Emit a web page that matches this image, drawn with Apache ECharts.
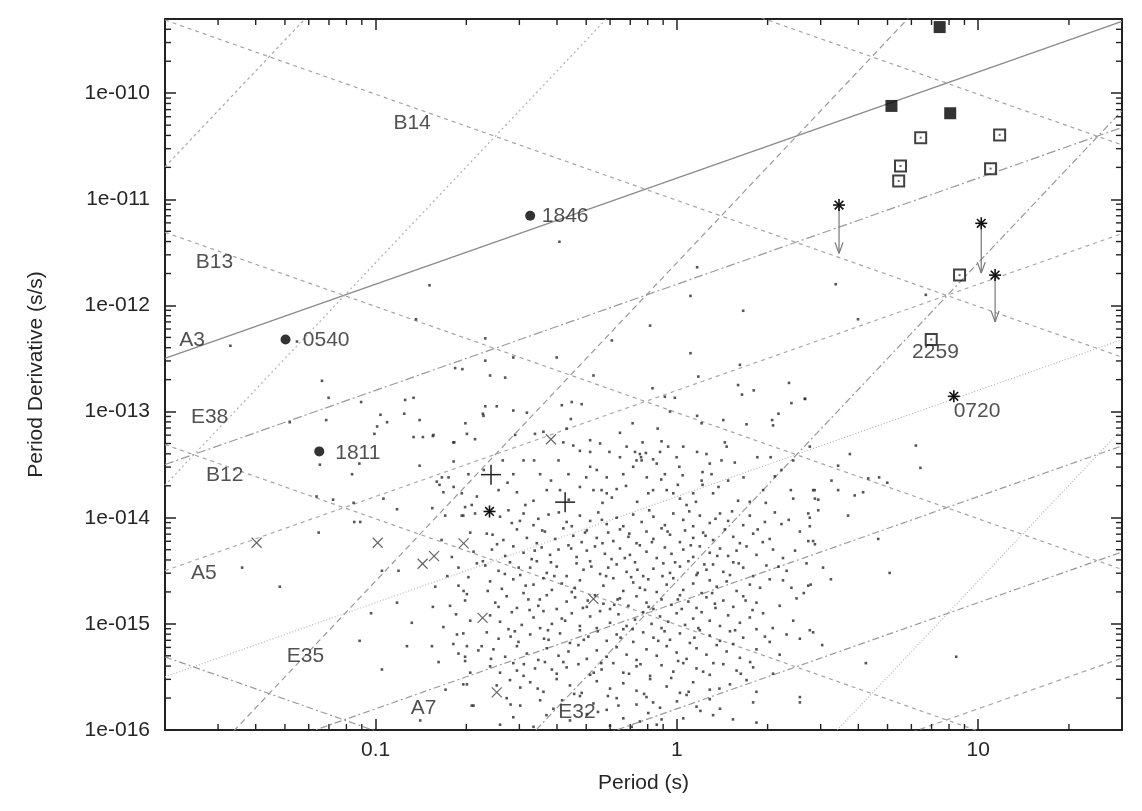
<!DOCTYPE html>
<html>
<head>
<meta charset="utf-8">
<title>P - Pdot diagram</title>
<script src="https://cdn.jsdelivr.net/npm/echarts@6/dist/echarts.min.js"></script>
<style>
  html, body { margin: 0; padding: 0; background: #fff; }
  #chart { width: 1142px; height: 811px; }
</style>
</head>
<body>
<div id="chart"></div>
<script>
// P-Pdot diagram. All values are stored as [log10 P, log10 Pdot].

const FONT = '"Liberation Sans", Arial, sans-serif';
const X_MIN = 0.02, X_MAX = 30;
const Y_MIN = 1e-16, Y_MAX = 5e-10;

// reference lines: name, start, end (log units, clipped by the grid)
const ageLines = [
  ['A3', [-1.699, -12.499], [1.477, -9.323]],
  ['A4', [-1.699, -13.499], [1.477, -10.323]],
  ['A5', [-1.699, -14.499], [1.477, -11.323]],
  ['A6', [-1.699, -15.499], [1.477, -12.323]],
  ['A7', [-1.699, -16.499], [1.477, -13.323]],
  ['A8', [-1.699, -17.499], [1.477, -14.323]],
  ['A9', [-1.699, -18.499], [1.477, -15.323]]
];
const fieldLines = [
  ['B11', [-1.699, -15.311], [1.477, -18.487]],
  ['B12', [-1.699, -13.311], [1.477, -16.487]],
  ['B13', [-1.699, -11.311], [1.477, -14.487]],
  ['B14', [-1.699, -9.311], [1.477, -12.487]],
  ['B15', [-1.699, -7.311], [1.477, -10.487]]
];
const edotLines = [
  ['E29', [-1.699, -22.694], [1.477, -13.166]],
  ['E32', [-1.699, -19.694], [1.477, -10.166]],
  ['E35', [-1.699, -16.694], [1.477, -7.166]],
  ['E38', [-1.699, -13.694], [1.477, -4.166]],
  ['E41', [-1.699, -10.694], [1.477, -1.166]]
];

// text labels of the lines, centre of the text
const lineLabels = [
  ['A3', -1.609, -12.323], ['A5', -1.570, -14.521], ['A7', -0.841, -15.794],
  ['B12', -1.501, -13.601], ['B13', -1.535, -11.596], ['B14', -0.879, -10.283],
  ['E38', -1.551, -13.051], ['E35', -1.233, -15.306], ['E32', -0.332, -15.834]
];
const pointLabels = [
  ['1846', -0.371, -11.156], ['0540', -1.164, -12.327], ['1811', -1.059, -13.389],
  ['2259', 0.858, -12.445], ['0720', 0.996, -12.997]
];

// special objects
const filledSquares = [[0.872, -9.377], [0.712, -10.120], [0.907, -10.189]];
const openSquares = [[0.809, -10.419], [1.071, -10.393], [0.742, -10.686], [0.736, -10.827],
  [1.041, -10.711], [0.938, -11.714], [0.844, -12.321]];
const filledCircles = [[-0.487, -11.155], [-1.299, -12.321], [-1.187, -13.375]];
const starMarks = [[0.538, -11.054], [1.010, -11.226], [1.056, -11.714], [0.919, -12.856], [-0.622, -13.941]];
const upperLimits = [[0.538, -11.054, -11.509], [1.010, -11.226, -11.695], [1.056, -11.714, -12.155]];
const plusMarks = [[-0.617, -13.594], [-0.371, -13.853]];
const crossMarks = [[-1.395, -14.236], [-0.993, -14.236], [-0.844, -14.434], [-0.806, -14.362],
  [-0.708, -14.242], [-0.645, -14.943], [-0.277, -14.764], [-0.598, -15.645], [-0.418, -13.261]];

// radio pulsars (small dots)
const pulsarDots = [
  [-0.821,-11.81],[-0.866,-12.13],[-1.482,-12.38],[-1.178,-12.71],[-1.156,-12.87],[-1.048,-12.91],
  [-1.285,-13.10],[-1.164,-13.08],[-0.984,-13.03],[-0.995,-13.14],[-0.962,-13.10],[-1.004,-13.21],
  [-0.902,-12.89],[-0.874,-12.87],[-0.905,-13.02],[-0.854,-13.08],[-0.810,-13.23],[-0.843,-13.24],
  [-0.874,-13.24],[-0.736,-12.59],[-0.712,-12.60],[-0.702,-13.11],[-0.670,-13.26],[-0.739,-13.29],
  [-0.642,-13.04],[-0.636,-12.95],[-1.078,-13.59],[-1.054,-13.49],[-0.854,-13.51],[-1.196,-13.80],
  [-1.141,-13.83],[-1.073,-13.86],[-0.974,-13.82],[-0.929,-13.92],[-1.185,-13.50],[-1.261,-12.34],
  [-0.780,-13.62],[-0.636,-12.31],[-0.636,-12.52],[-0.644,-13.02],[-0.788,-13.69],[-0.741,-13.71],
  [-0.714,-13.77],[-0.692,-13.59],[-0.670,-13.96],[-0.703,-13.90],[-0.390,-11.40],
  [0.067,-11.64],[0.045,-11.91],[0.220,-12.05],[-0.089,-12.19],[0.045,-12.45],[-0.216,-12.33],
  [0.209,-12.56],[0.071,-12.67],[-0.081,-12.78],[0.203,-12.75],[0.216,-12.84],[0.255,-12.80],
  [0.372,-12.73],[0.425,-12.88],[0.380,-12.92],[0.337,-13.02],[0.316,-13.08],[0.319,-13.13],
  [0.231,-13.12],[0.159,-13.29],[0.165,-13.33],[0.067,-13.04],[0.082,-13.11],[-0.023,-13.00],
  [-0.040,-12.86],[-0.007,-12.87],[-0.147,-13.11],[-0.064,-13.16],[-0.189,-13.20],[-0.114,-13.29],
  [-0.051,-13.28],[-0.255,-13.30],[-0.288,-13.38],[-0.322,-13.37],[-0.224,-13.38],[-0.139,-13.38],
  [-0.123,-13.40],[-0.103,-13.39],[-0.119,-13.43],[-0.117,-13.46],[-0.189,-13.43],[-0.145,-13.52],
  [-0.079,-13.45],[-0.067,-13.49],[-0.001,-13.43],[0.008,-13.52],[0.019,-13.60],[-0.040,-13.59],
  [0.067,-13.38],[0.098,-13.40],[0.109,-13.49],[0.085,-13.57],[0.082,-13.65],[0.085,-13.69],
  [0.115,-13.59],[0.120,-13.77],[0.148,-13.46],[0.192,-13.48],[0.203,-13.84],[0.242,-13.85],
  [0.267,-13.43],[0.311,-13.43],[0.325,-13.61],[0.386,-13.46],[0.378,-13.74],[0.457,-13.74],
  [0.386,-13.82],[-0.543,-12.49],[-0.620,-12.66],[-0.570,-12.68],[-0.598,-12.95],[-0.543,-12.99],
  [-0.498,-13.01],[-0.382,-12.94],[-0.349,-12.91],[-0.316,-12.93],[-0.352,-13.07],[-0.277,-12.66],
  [-0.399,-12.49],[-0.537,-13.22],[-0.471,-13.21],[-0.443,-13.19],[-0.366,-13.16],[-0.377,-13.29],
  [-0.344,-13.32],[-0.509,-13.46],[-0.474,-13.46],[-0.454,-13.59],[-0.543,-13.59],[-0.578,-13.46],
  [-0.592,-13.74],[-0.531,-13.76],[-0.476,-13.84],[-0.432,-13.74],[-0.388,-13.74],[-0.322,-13.71],
  [-0.288,-13.52],[-0.266,-13.55],[-0.277,-13.74],[-0.250,-13.74],[-0.233,-13.77],[-0.216,-13.81],
  [-0.200,-13.73],[-0.095,-13.77],[-0.079,-13.74],[-0.012,-13.77],[0.010,-13.82],[0.032,-13.88],
  [-0.393,-13.46],[-0.360,-13.59],[-0.288,-13.27],[-0.167,-13.33],[-0.134,-13.46],[-0.056,-13.38],
  [-0.029,-13.33],[0.021,-13.33],[-0.178,-13.59],[-0.100,-13.62],[-0.233,-13.62],[-0.034,-13.74],
  [0.054,-13.77],[0.170,-13.65],[0.286,-13.74],[0.347,-13.55],[0.441,-13.33],[0.154,-13.08],
  [-0.587,-13.99],[-0.548,-14.05],[-0.509,-13.96],[-0.476,-14.07],[-0.460,-14.01],[-0.426,-13.97],
  [-0.366,-14.04],[-0.349,-14.08],[-0.322,-13.98],[-0.288,-14.03],[-0.261,-13.95],[-0.233,-14.06],
  [-0.200,-14.00],[-0.178,-14.08],[-0.145,-13.97],[-0.117,-14.04],[-0.078,-13.99],[-0.040,-14.07],
  [-0.012,-13.96],[0.021,-14.02],[0.054,-14.08],[0.076,-13.98],[0.109,-14.05],[0.143,-13.96],
  [0.170,-14.03],[0.220,-14.07],[0.242,-13.98],[0.292,-14.04],[0.325,-13.95],[0.347,-14.06],
  [0.441,-14.00],
  [-0.631,-14.15],[-0.576,-14.21],[-0.531,-14.11],[-0.498,-14.19],[-0.465,-14.24],[-0.438,-14.13],
  [-0.404,-14.20],[-0.377,-14.10],[-0.344,-14.17],[-0.316,-14.23],[-0.299,-14.12],[-0.266,-14.19],
  [-0.228,-14.14],[-0.211,-14.22],[-0.189,-14.11],[-0.161,-14.18],[-0.134,-14.24],[-0.101,-14.13],
  [-0.078,-14.20],[-0.051,-14.10],[-0.023,-14.16],[0.010,-14.23],[0.027,-14.12],[0.054,-14.19],
  [0.087,-14.14],[0.120,-14.21],[0.159,-14.11],[0.187,-14.18],[0.209,-14.24],[0.253,-14.15],
  [0.308,-14.20],[0.408,-14.13],[0.452,-14.22],
  [-0.614,-14.30],[-0.570,-14.36],[-0.543,-14.27],[-0.509,-14.33],[-0.482,-14.39],[-0.449,-14.28],
  [-0.421,-14.35],[-0.393,-14.30],[-0.360,-14.26],[-0.333,-14.37],[-0.299,-14.31],[-0.272,-14.27],
  [-0.239,-14.34],[-0.217,-14.39],[-0.189,-14.29],[-0.156,-14.35],[-0.123,-14.26],[-0.101,-14.32],
  [-0.067,-14.38],[-0.040,-14.28],[-0.018,-14.34],[0.021,-14.30],[0.054,-14.37],[0.076,-14.27],
  [0.109,-14.33],[0.143,-14.29],[0.170,-14.36],[0.198,-14.31],[0.231,-14.27],[0.264,-14.35],
  [0.319,-14.30],[0.352,-14.38],
  [-0.636,-14.45],[-0.592,-14.50],[-0.554,-14.42],[-0.520,-14.54],[-0.487,-14.47],[-0.465,-14.41],
  [-0.432,-14.52],[-0.399,-14.46],[-0.366,-14.55],[-0.333,-14.43],[-0.310,-14.49],[-0.288,-14.41],
  [-0.255,-14.53],[-0.228,-14.47],[-0.200,-14.44],[-0.167,-14.51],[-0.139,-14.42],[-0.112,-14.55],
  [-0.078,-14.48],[-0.045,-14.43],[-0.023,-14.52],[0.010,-14.46],[0.038,-14.41],[0.065,-14.54],
  [0.098,-14.49],[0.120,-14.44],[0.154,-14.51],[0.187,-14.42],[0.220,-14.47],[0.253,-14.55],
  [0.297,-14.45],[0.364,-14.50],[0.430,-14.43],
  [-0.620,-14.60],[-0.581,-14.67],[-0.543,-14.58],[-0.509,-14.71],[-0.476,-14.63],[-0.443,-14.57],
  [-0.415,-14.68],[-0.382,-14.62],[-0.349,-14.70],[-0.322,-14.59],[-0.244,-14.64],[-0.211,-14.57],
  [-0.178,-14.69],[-0.145,-14.61],[-0.123,-14.66],[-0.095,-14.58],[-0.067,-14.70],[-0.034,-14.63],
  [-0.012,-14.57],[0.021,-14.68],[0.054,-14.62],[0.082,-14.71],[0.109,-14.59],[0.132,-14.65],
  [0.165,-14.60],[0.198,-14.69],[0.242,-14.63],[0.308,-14.58],[0.380,-14.66],
  [-0.603,-14.80],[-0.565,-14.74],[-0.531,-14.85],[-0.493,-14.77],[-0.460,-14.83],[-0.432,-14.73],
  [-0.399,-14.86],[-0.366,-14.79],[-0.338,-14.75],[-0.299,-14.84],[-0.272,-14.73],[-0.244,-14.81],
  [-0.222,-14.86],[-0.189,-14.76],[-0.161,-14.83],[-0.134,-14.74],[-0.101,-14.80],[-0.078,-14.86],
  [-0.051,-14.77],[-0.018,-14.82],[0.010,-14.73],[0.038,-14.79],[0.065,-14.85],[0.098,-14.75],
  [0.126,-14.81],[0.154,-14.78],[0.187,-14.84],[0.220,-14.74],[0.264,-14.80],[0.341,-14.83],
  [0.397,-14.76],
  [-0.620,-14.92],[-0.587,-14.98],[-0.548,-14.89],[-0.515,-15.01],[-0.476,-14.94],[-0.443,-14.88],
  [-0.415,-15.00],[-0.382,-14.95],[-0.349,-14.90],[-0.322,-15.02],[-0.288,-14.93],[-0.255,-14.88],
  [-0.222,-14.99],[-0.194,-14.91],[-0.167,-15.02],[-0.139,-14.96],[-0.112,-14.89],[-0.084,-15.00],
  [-0.056,-14.93],[-0.029,-14.98],[-0.001,-14.90],[0.027,-15.01],[0.054,-14.95],[0.082,-14.89],
  [0.109,-14.97],[0.143,-15.02],[0.170,-14.92],[0.209,-14.99],[0.242,-14.94],[0.286,-14.90],
  [0.386,-14.97],
  [-0.631,-15.08],[-0.592,-15.14],[-0.559,-15.05],[-0.526,-15.17],[-0.487,-15.10],[-0.454,-15.04],
  [-0.426,-15.15],[-0.388,-15.09],[-0.355,-15.18],[-0.322,-15.06],[-0.294,-15.12],[-0.266,-15.04],
  [-0.233,-15.16],[-0.200,-15.10],[-0.178,-15.05],[-0.145,-15.17],[-0.112,-15.08],[-0.078,-15.13],
  [-0.051,-15.04],[-0.023,-15.15],[0.010,-15.09],[0.043,-15.18],[0.076,-15.06],[0.109,-15.11],
  [0.143,-15.16],[0.176,-15.07],[0.220,-15.13],[0.264,-15.05],[0.308,-15.17],[0.364,-15.10],
  [0.452,-15.08],
  [-0.609,-15.24],[-0.570,-15.31],[-0.531,-15.21],[-0.498,-15.28],[-0.460,-15.34],[-0.432,-15.23],
  [-0.393,-15.30],[-0.360,-15.26],[-0.327,-15.20],[-0.299,-15.33],[-0.266,-15.25],[-0.233,-15.31],
  [-0.200,-15.22],[-0.167,-15.29],[-0.134,-15.34],[-0.101,-15.24],[-0.067,-15.30],[-0.034,-15.21],
  [-0.001,-15.27],[0.032,-15.33],[0.065,-15.23],[0.098,-15.29],[0.132,-15.20],[0.165,-15.26],
  [0.209,-15.32],[0.264,-15.24],[0.341,-15.29],
  [-0.620,-15.40],[-0.587,-15.46],[-0.543,-15.37],[-0.509,-15.49],[-0.471,-15.42],[-0.438,-15.36],
  [-0.399,-15.47],[-0.366,-15.41],[-0.327,-15.38],[-0.288,-15.48],[-0.250,-15.43],[-0.211,-15.37],
  [-0.178,-15.46],[-0.134,-15.40],[-0.089,-15.49],[-0.051,-15.39],[-0.012,-15.45],[0.021,-15.37],
  [0.065,-15.42],[0.109,-15.48],[0.154,-15.38],[0.198,-15.44],[0.253,-15.41],[0.319,-15.47],
  [-0.554,-15.53],[-0.520,-15.60],[-0.487,-15.55],[-0.443,-15.64],[-0.399,-15.52],[-0.355,-15.58],
  [-0.316,-15.65],[-0.266,-15.54],[-0.222,-15.61],[-0.178,-15.56],[-0.134,-15.63],[-0.089,-15.52],
  [-0.034,-15.59],[0.010,-15.65],[0.054,-15.55],[0.109,-15.62],[0.176,-15.57],[0.231,-15.53],
  [0.264,-15.64],
  [-0.565,-15.70],[-0.520,-15.77],[-0.454,-15.72],[-0.410,-15.80],[-0.322,-15.68],[-0.277,-15.75],
  [-0.233,-15.81],[-0.200,-15.70],[-0.134,-15.76],[-0.101,-15.69],[-0.056,-15.79],[0.000,-15.73],
  [0.032,-15.67],[0.065,-15.78],[0.109,-15.71],[0.143,-15.80],[0.253,-15.74],[0.408,-15.69],
  [-0.587,-15.95],[-0.543,-15.88],[-0.476,-15.97],[-0.355,-15.91],[-0.299,-15.85],[-0.222,-15.96],
  [-0.178,-15.89],[-0.150,-15.97],[-0.123,-15.92],[-0.095,-15.84],[-0.067,-15.95],[-0.051,-15.90],
  [0.120,-15.86],[0.264,-15.93],
  [-0.808,-13.22],[-0.742,-13.29],[-0.697,-13.21],[-0.797,-13.66],[-0.775,-13.76],[-0.758,-13.62],
  [-0.709,-13.98],[-0.681,-13.88],[-0.664,-13.80],[-0.747,-14.37],[-0.725,-14.47],[-0.675,-14.32],
  [-0.664,-14.43],[-0.697,-14.72],[-0.725,-14.64],[-0.686,-14.97],[-0.709,-15.09],[-0.742,-15.19],
  [-0.725,-15.28],[-0.703,-15.35],[-0.659,-15.25],[-0.709,-15.57],[-0.675,-15.77],[-0.753,-14.83],
  [-0.802,-14.65],[-0.775,-15.03],[-0.769,-13.98],[-0.714,-13.98],[-0.686,-14.14],[-0.692,-14.56],
  [-0.708,-14.69],[-0.703,-14.78],[-0.730,-15.10],[-0.697,-15.21],[-0.648,-15.21],[-0.703,-15.31],
  [-0.686,-15.46],[-0.697,-15.57],
  [-0.781,-14.21],[-0.762,-14.55],[-0.733,-14.91],[-0.791,-15.36],[-0.768,-15.62],[-0.741,-13.47],
  [-0.812,-13.91],
  [-1.443,-14.47],[-1.318,-14.65],[-1.189,-14.14],[-1.071,-14.04],[-1.051,-14.04],[-0.979,-14.50],
  [-0.924,-14.50],[-0.929,-14.80],[-1.015,-14.90],[-1.053,-15.16],[-0.880,-14.99],[-0.896,-15.21],
  [-0.810,-14.84],[-0.813,-15.21],[-0.979,-15.43],[-0.852,-15.91],[-0.681,-15.77],
  [0.527,-11.80],[0.826,-11.90],[0.601,-12.13],[0.425,-12.88],[0.793,-13.32],[0.574,-13.40],
  [0.808,-13.53],[0.535,-13.51],[0.635,-13.63],[0.671,-13.62],[0.698,-13.67],[0.513,-13.65],
  [0.452,-13.74],[0.535,-13.74],[0.590,-13.79],[0.618,-13.76],[0.458,-13.82],[0.469,-13.83],
  [0.469,-13.93],[0.568,-13.98],[0.436,-13.96],
  [0.441,-14.08],[0.436,-14.22],[0.458,-14.25],[0.668,-14.20],[0.485,-14.47],
  [0.706,-14.52],[0.511,-14.58],[0.436,-14.64],[0.444,-14.63],[0.441,-15.06],[0.408,-15.14],
  [0.482,-15.20],[0.627,-15.37],[0.927,-15.31],[0.408,-15.74],
  // second pass over the dense cloud
  [-0.612,-14.16],[-0.559,-13.93],[-0.521,-14.03],[-0.447,-14.12],[-0.392,-13.95],[-0.305,-14.14],
  [-0.249,-14.02],[-0.158,-14.15],[-0.092,-13.93],[-0.031,-14.13],[0.041,-13.94],[0.095,-14.17],
  [0.128,-14.01],[0.183,-13.94],[0.268,-14.11],[0.371,-14.02],
  [-0.644,-14.41],[-0.597,-14.25],[-0.525,-14.47],[-0.472,-14.31],[-0.418,-14.42],[-0.351,-14.29],
  [-0.284,-14.46],[-0.247,-14.24],[-0.173,-14.38],[-0.131,-14.49],[-0.083,-14.23],[-0.006,-14.42],
  [0.046,-14.26],[0.091,-14.44],[0.134,-14.36],[0.205,-14.43],[0.285,-14.23],[0.337,-14.46],
  [0.392,-14.31],
  [-0.628,-14.69],[-0.571,-14.53],[-0.502,-14.64],[-0.455,-14.77],[-0.407,-14.55],[-0.339,-14.66],
  [-0.296,-14.78],[-0.235,-14.55],[-0.197,-14.77],[-0.152,-14.56],[-0.106,-14.68],[-0.048,-14.55],
  [0.003,-14.77],[0.069,-14.52],[0.117,-14.71],[0.176,-14.54],[0.228,-14.78],[0.276,-14.66],
  [0.352,-14.59],[0.421,-14.71],
  [-0.592,-14.84],[-0.538,-15.07],[-0.489,-14.87],[-0.428,-15.06],[-0.371,-14.97],[-0.312,-14.85],
  [-0.263,-15.07],[-0.208,-14.82],[-0.147,-15.05],[-0.094,-14.84],[-0.041,-15.07],[0.016,-14.86],
  [0.071,-15.04],[0.128,-14.85],[0.193,-15.06],[0.251,-14.87],[0.318,-15.04],
  [-0.617,-15.33],[-0.552,-15.12],[-0.508,-15.38],[-0.441,-15.14],[-0.377,-15.36],[-0.309,-15.15],
  [-0.251,-15.37],[-0.187,-15.13],[-0.121,-15.38],[-0.062,-15.16],[0.004,-15.35],[0.058,-15.13],
  [0.121,-15.37],[0.187,-15.19],[0.243,-15.36],[0.292,-15.12],
  [-0.598,-15.58],[-0.531,-15.44],[-0.462,-15.61],[-0.415,-15.43],[-0.341,-15.66],[-0.276,-15.46],
  [-0.229,-15.68],[-0.159,-15.47],[-0.109,-15.66],[-0.019,-15.51],[0.039,-15.64],[0.087,-15.45],
  [0.141,-15.61],[0.212,-15.47],
  [-0.552,-15.76],[-0.433,-15.86],[-0.381,-15.72],[-0.262,-15.83],[-0.194,-15.77],[-0.079,-15.74],
  [0.021,-15.89],[0.078,-15.82],[0.186,-15.90],
  [-0.641,-13.55],[-0.562,-13.67],[-0.503,-13.88],[-0.418,-13.65],[-0.359,-13.83],[-0.301,-13.62],
  [-0.247,-13.86],[-0.169,-13.70],[-0.132,-13.85],[-0.052,-13.64],[0.003,-13.69],[0.063,-13.85],
  [0.138,-13.71],[0.221,-13.62],[0.295,-13.86]
];

// line styles, keyed by line name
const lineLook = {
  A3: { color: '#8a8a8a', type: 'solid', width: 1.3 },
  A4: { color: '#9a9a9a', type: [9, 3, 2, 3] },
  A5: { color: '#aaaaaa', type: [4, 4] },
  A6: { color: '#b4b4b4', type: [1, 2] },
  A7: { color: '#9a9a9a', type: [7, 3, 2, 3] },
  A8: { color: '#9a9a9a', type: [7, 3, 2, 3] },
  A9: { color: '#a4a4a4', type: [5, 4] },
  B11: { color: '#9a9a9a', type: [7, 3, 2, 3] },
  B12: { color: '#a4a4a4', type: [4, 4] },
  B13: { color: '#a4a4a4', type: [4, 4] },
  B14: { color: '#a4a4a4', type: [4, 4] },
  B15: { color: '#a4a4a4', type: [4, 4] },
  E29: { color: '#b4b4b4', type: [1, 2] },
  E32: { color: '#9a9a9a', type: [7, 3, 2, 3] },
  E35: { color: '#9a9a9a', type: [6, 4] },
  E38: { color: '#b0b0b0', type: [2, 3] },
  E41: { color: '#a8a8a8', type: [3, 3] }
};

const minorMantissa = [2, 3, 4, 5, 6, 7, 8, 9];
const xDecades = [0.01, 0.1, 1, 10];
const yDecades = [1e-16, 1e-15, 1e-14, 1e-13, 1e-12, 1e-11, 1e-10];

const toVal = (p) => [Math.pow(10, p[0]), Math.pow(10, p[1])];

const chartDom = document.getElementById('chart');
const chart = echarts.init(chartDom, null, { renderer: 'canvas' });

// minor ticks (2..9 in each decade), on all four sides
const minorTicks = [];
xDecades.forEach(d => minorMantissa.forEach(m => {
  const v = d * m;
  if (v > X_MIN * 1.001 && v < X_MAX * 0.999) minorTicks.push([v, 1e-13, 0]);
}));
yDecades.forEach(d => minorMantissa.forEach(m => {
  const v = d * m;
  if (v > Y_MIN * 1.001 && v < Y_MAX * 0.999) minorTicks.push([1, v, 1]);
}));

function renderMinorTick(params, api) {
  const cs = params.coordSys;
  const p = api.coord([api.value(0), api.value(1)]);
  const L = 6;
  const st = { stroke: '#222', lineWidth: 1.4 };
  let segs;
  if (api.value(2) === 0) {
    segs = [[p[0], cs.y + cs.height, p[0], cs.y + cs.height - L], [p[0], cs.y, p[0], cs.y + L]];
  } else {
    segs = [[cs.x, p[1], cs.x + L, p[1]], [cs.x + cs.width, p[1], cs.x + cs.width - L, p[1]]];
  }
  return {
    type: 'group',
    children: segs.map(s => ({ type: 'line', shape: { x1: s[0], y1: s[1], x2: s[2], y2: s[3] }, style: st }))
  };
}

// stroked markers: plus, cross, asterisk
function strokeMarker(kind, half, color, width) {
  return function (params, api) {
    const p = api.coord([api.value(0), api.value(1)]);
    const d = half * 0.72;
    let segs;
    if (kind === 'plus') segs = [[-half, 0, half, 0], [0, -half, 0, half]];
    else if (kind === 'cross') segs = [[-half, -half, half, half], [-half, half, half, -half]];
    else segs = [[-half, 0, half, 0], [0, -half, 0, half], [-d, -d, d, d], [-d, d, d, -d]];
    return {
      type: 'group',
      children: segs.map(s => ({
        type: 'line',
        shape: { x1: p[0] + s[0], y1: p[1] + s[1], x2: p[0] + s[2], y2: p[1] + s[3] },
        style: { stroke: color, lineWidth: width }
      }))
    };
  };
}

// downward arrows for upper limits
function renderArrow(params, api) {
  const p1 = api.coord([api.value(0), api.value(1)]);
  const p2 = api.coord([api.value(0), api.value(2)]);
  const st = { stroke: '#777', lineWidth: 1.2 };
  return {
    type: 'group',
    children: [
      { type: 'line', shape: { x1: p1[0], y1: p1[1], x2: p2[0], y2: p2[1] }, style: st },
      { type: 'line', shape: { x1: p2[0] - 4, y1: p2[1] - 11, x2: p2[0], y2: p2[1] }, style: st },
      { type: 'line', shape: { x1: p2[0] + 4, y1: p2[1] - 11, x2: p2[0], y2: p2[1] }, style: st }
    ]
  };
}

const refLineSeries = [...ageLines, ...fieldLines, ...edotLines].map(([name, a, b]) => ({
  type: 'line',
  name: name,
  data: [toVal(a), toVal(b)],
  symbol: 'none',
  showSymbol: false,
  silent: true,
  clip: true,
  z: 1,
  lineStyle: {
    color: lineLook[name].color,
    type: lineLook[name].type,
    width: lineLook[name].width || 1.2
  }
}));

const textSeries = (items) => ({
  type: 'scatter',
  data: items.map(([t, a, b]) => ({ name: t, value: toVal([a, b]) })),
  symbolSize: 1,
  itemStyle: { color: 'rgba(0,0,0,0)' },
  silent: true,
  z: 8,
  label: {
    show: true,
    position: 'inside',
    formatter: '{b}',
    fontFamily: FONT,
    fontSize: 21,
    color: '#262626'
  }
});

const tickLabelStyle = { fontFamily: FONT, fontSize: 21, color: '#262626' };
const axisLineStyle = { show: true, onZero: false, lineStyle: { color: '#222', width: 2 } };
const majorTick = { show: true, inside: true, length: 11, lineStyle: { color: '#222', width: 1.5 } };

const option = {
  animation: false,
  backgroundColor: '#fff',
  grid: { left: 165, right: 20, top: 19, bottom: 81, containLabel: false },
  xAxis: [
    {
      type: 'log', logBase: 10, min: X_MIN, max: X_MAX, position: 'bottom',
      name: 'Period (s)', nameLocation: 'middle', nameGap: 43,
      nameTextStyle: tickLabelStyle,
      axisLine: axisLineStyle, axisTick: majorTick, splitLine: { show: false },
      axisLabel: {
        ...tickLabelStyle, margin: 10, showMinLabel: false, showMaxLabel: false,
        formatter: v => (v >= 1 ? String(Math.round(v)) : String(+v.toPrecision(1)))
      }
    },
    {
      type: 'log', logBase: 10, min: X_MIN, max: X_MAX, position: 'top',
      axisLine: axisLineStyle, axisTick: majorTick, splitLine: { show: false },
      axisLabel: { show: false }
    }
  ],
  yAxis: [
    {
      type: 'log', logBase: 10, min: Y_MIN, max: Y_MAX, position: 'left',
      name: 'Period Derivative (s/s)', nameLocation: 'middle', nameGap: 118, nameRotate: 90,
      nameTextStyle: tickLabelStyle,
      axisLine: axisLineStyle, axisTick: majorTick, splitLine: { show: false },
      axisLabel: {
        ...tickLabelStyle, margin: 15, showMaxLabel: false,
        formatter: v => '1e-' + String(-Math.round(Math.log10(v))).padStart(3, '0')
      }
    },
    {
      type: 'log', logBase: 10, min: Y_MIN, max: Y_MAX, position: 'right',
      axisLine: axisLineStyle, axisTick: majorTick, splitLine: { show: false },
      axisLabel: { show: false }
    }
  ],
  series: [
    ...refLineSeries,
    {
      type: 'custom', name: 'minor ticks', data: minorTicks, renderItem: renderMinorTick,
      silent: true, z: 3, clip: false
    },
    {
      type: 'scatter', name: 'pulsars', data: pulsarDots.map(toVal),
      symbol: 'rect', symbolSize: 2.6, itemStyle: { color: '#2a2a2a' }, silent: true, z: 4
    },
    {
      type: 'custom', name: 'cross', data: crossMarks.map(toVal),
      renderItem: strokeMarker('cross', 5, '#666', 1.2), silent: true, z: 5
    },
    {
      type: 'custom', name: 'plus', data: plusMarks.map(toVal),
      renderItem: strokeMarker('plus', 10, '#222', 1.5), silent: true, z: 5
    },
    {
      type: 'custom', name: 'arrows', data: upperLimits.map(r => [Math.pow(10, r[0]), Math.pow(10, r[1]), Math.pow(10, r[2])]),
      renderItem: renderArrow, silent: true, z: 5
    },
    {
      type: 'custom', name: 'star', data: starMarks.map(toVal),
      renderItem: strokeMarker('star', 6, '#111', 1.6), silent: true, z: 6
    },
    {
      type: 'scatter', name: 'filled squares', data: filledSquares.map(toVal),
      symbol: 'rect', symbolSize: 12, itemStyle: { color: '#000' }, silent: true, z: 6
    },
    {
      type: 'scatter', name: 'open squares', data: openSquares.map(toVal),
      symbol: 'rect', symbolSize: 11,
      itemStyle: { color: 'rgba(255,255,255,0)', borderColor: '#111', borderWidth: 2 },
      silent: true, z: 6
    },
    {
      type: 'scatter', name: 'open square centres', data: openSquares.map(toVal),
      symbol: 'rect', symbolSize: 2, itemStyle: { color: '#444' }, silent: true, z: 6
    },
    {
      type: 'scatter', name: 'filled circles', data: filledCircles.map(toVal),
      symbol: 'circle', symbolSize: 10, itemStyle: { color: '#000' }, silent: true, z: 6
    },
    textSeries(lineLabels),
    textSeries(pointLabels)
  ]
};

chart.setOption(option);
</script>
</body>
</html>
